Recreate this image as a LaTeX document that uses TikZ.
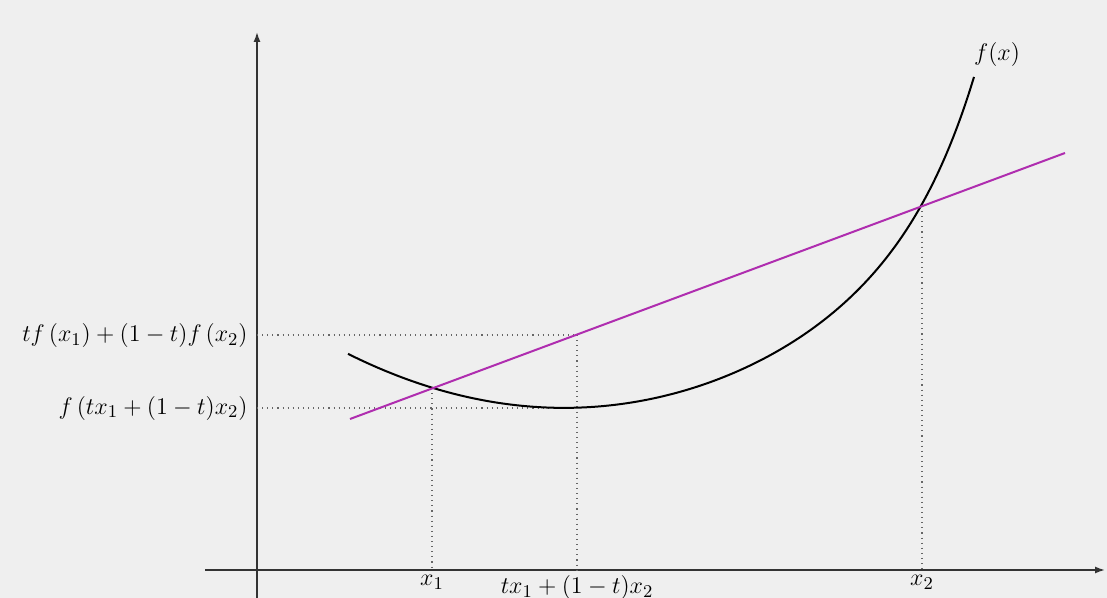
\documentclass[tikz,border=0pt]{standalone}
\usetikzlibrary{arrows.meta}
\definecolor{bgc}{HTML}{EFEFEF}
\definecolor{magc}{RGB}{175,45,175}
\definecolor{axisc}{HTML}{333333}
\definecolor{dotc}{HTML}{666666}
\tikzset{
  axisline/.style={draw=axisc, line width=0.75pt, -{Latex[length=5pt,width=3.5pt]}},
  guide/.style={draw=dotc, line width=0.55pt, dotted},
  curveline/.style={draw=black, line width=1pt},
  chord/.style={draw=magc, line width=1pt},
  lbl/.style={inner sep=0pt, text=black}
}
\begin{document}
\begin{tikzpicture}[x=0.5pt,y=-0.5pt,font=\fontsize{12.5}{15}\selectfont]
\fill[bgc] (0,0) rectangle (1107,598);
\useasboundingbox (0,0) rectangle (1107,598);
% coordinates
\coordinate (ybot) at (257,598);
\coordinate (ytop) at (257,32);
\coordinate (xleft) at (205,570);
\coordinate (xright) at (1105,570);
\coordinate (A) at (432,388);
\coordinate (B) at (922,206);
\coordinate (M) at (577,335);
\coordinate (Mc) at (577,408);
\coordinate (L1) at (350,419);
\coordinate (L2) at (1065,153);
\coordinate (yA) at (257,335);
\coordinate (yB) at (257,408);
\coordinate (xA) at (432,570);
\coordinate (xM) at (577,570);
\coordinate (xB) at (922,570);
% axes
\draw[axisline] (ybot) -- (ytop);
\draw[axisline] (xleft) -- (xright);
% guides
\draw[guide] (yA) -- (M);
\draw[guide] (yB) -- (Mc);
\draw[guide] (A) -- (xA);
\draw[guide] (M) -- (xM);
\draw[guide] (B) -- (xB);
% curve
\draw[curveline] plot[domain=-217:409, samples=150, variable=\t, smooth]
  ({565+\t}, {408 - 11.5*(\t/100)*(\t/100) - exp(\t/59-2.0)});
% chord
\draw[chord] (L1) -- (L2);
% labels
\node[lbl, anchor=east] (ltop) at (248,336) {$tf\left(x_1\right)+(1-t)f\left(x_2\right)$};
\node[lbl, anchor=east] (lbot) at (248,408) {$f\left(tx_1+(1-t)x_2\right)$};
\node[lbl, anchor=north] (lx1) at (432,575) {$x_1$};
\node[lbl, anchor=north] (lxm) at (577,575) {$tx_1+(1-t)x_2$};
\node[lbl, anchor=north] (lx2) at (922,575) {$x_2$};
\node[lbl] (lf) at (997,55) {$f(x)$};
\end{tikzpicture}
\end{document}
